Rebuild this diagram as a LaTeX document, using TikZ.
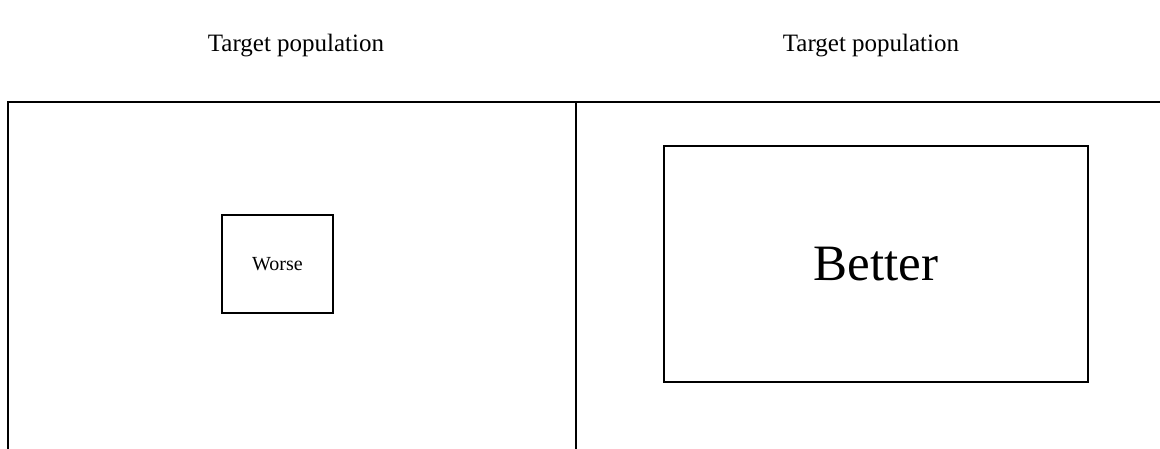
\documentclass[tikz,border=0pt]{standalone}
\usepackage{fontspec}
\setmainfont{Liberation Serif}
\begin{document}
\begin{tikzpicture}[x=1pt,y=-1pt,
  panel/.style={draw,line width=2pt,anchor=north west,minimum width=#1,minimum height=370pt,inner sep=0pt,outer sep=0pt},
  title/.style={font=\fontsize{25}{29}\selectfont,inner sep=0pt},
  box/.style={draw,line width=1.5pt,inner sep=0pt}]
\useasboundingbox (0,0) rectangle (1160,448);
\clip (0,0) rectangle (1160,448);
\node[panel=568pt] (p1) at (8,102) {};
\node[panel=600pt] (p2) at (576,102) {};
\node[title] (t1) at (296,46) {Target population};
\node[title] (t2) at (871,46) {Target population};
\node[box,minimum width=111pt,minimum height=98pt,font=\fontsize{20}{24}\selectfont] (w) at (277.5,264) {Worse};
\node[box,minimum width=424pt,minimum height=236pt,font=\fontsize{51}{60}\selectfont] (b) at (876,264) {Better};
\end{tikzpicture}
\end{document}
